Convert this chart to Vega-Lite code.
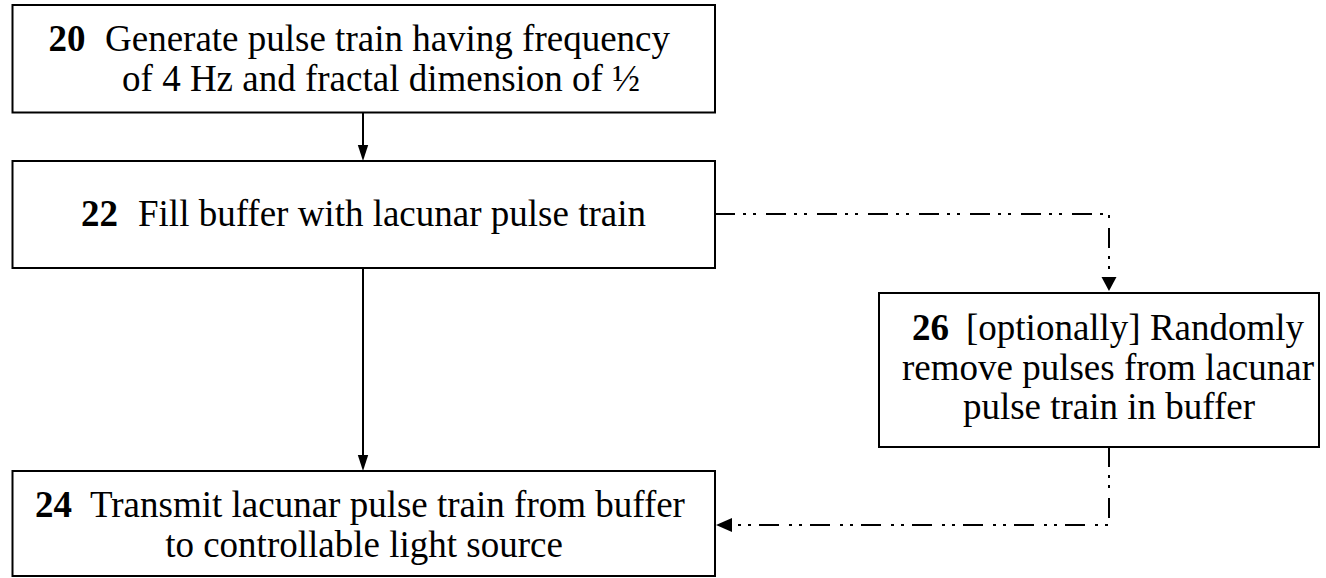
{
  "$schema": "https://vega.github.io/schema/vega-lite/v6.json",
  "width": 1326,
  "height": 578,
  "autosize": {"type": "fit", "contains": "padding"},
  "padding": 0,
  "background": "white",
  "config": {"view": {"stroke": null}},
  "datasets": {
    "boxes": [
      {"id": "20", "x": 12.5, "x2": 715, "y": 5, "y2": 112.5},
      {"id": "22", "x": 12.5, "x2": 715, "y": 161, "y2": 268},
      {"id": "26", "x": 879, "x2": 1319, "y": 293, "y2": 447},
      {"id": "24", "x": 12.5, "x2": 715, "y": 471, "y2": 576}
    ],
    "dashed": [
      {"path": "A", "k": 1, "x": 715, "y": 214},
      {"path": "A", "k": 2, "x": 1109, "y": 214},
      {"path": "A", "k": 3, "x": 1109, "y": 278},
      {"path": "B", "k": 1, "x": 1109, "y": 447},
      {"path": "B", "k": 2, "x": 1109, "y": 525},
      {"path": "B", "k": 3, "x": 731, "y": 525}
    ],
    "solid": [
      {"x": 363, "y": 112.5, "y2": 150},
      {"x": 363, "y": 268, "y2": 460}
    ],
    "tipsSolid": [
      {"x": 363, "y": 161},
      {"x": 363, "y": 471}
    ],
    "tipsDashDown": [
      {"x": 1109, "y": 291}
    ],
    "tipsLeft": [
      {"x": 716, "y": 525}
    ],
    "nums": [
      {"t": "20", "x": 48.5, "y": 50.5},
      {"t": "22", "x": 81, "y": 226},
      {"t": "26", "x": 912, "y": 340},
      {"t": "24", "x": 35, "y": 517}
    ],
    "firstLines": [
      {"t": "Generate pulse train having frequency", "x": 105, "y": 50.5},
      {"t": "Fill buffer with lacunar pulse train", "x": 138, "y": 226},
      {"t": "[optionally] Randomly", "x": 966, "y": 340},
      {"t": "Transmit lacunar pulse train from buffer", "x": 90, "y": 517}
    ],
    "otherLines": [
      {"t": "of 4 Hz and fractal dimension of ½", "x": 381, "y": 91},
      {"t": "remove pulses from lacunar", "x": 1108, "y": 380},
      {"t": "pulse train in buffer", "x": 1109, "y": 419},
      {"t": "to controllable light source", "x": 364, "y": 557}
    ]
  },
  "layer": [
    {
      "data": {"name": "boxes"},
      "mark": {"type": "rect", "fill": "white", "stroke": "black", "strokeWidth": 2},
      "encoding": {
        "x": {"field": "x", "type": "quantitative", "scale": {"domain": [0, 1326], "nice": false, "zero": false}, "axis": null},
        "x2": {"field": "x2"},
        "y": {"field": "y", "type": "quantitative", "scale": {"domain": [0, 578], "nice": false, "zero": false, "reverse": true}, "axis": null},
        "y2": {"field": "y2"}
      }
    },
    {
      "data": {"name": "dashed"},
      "mark": {"type": "line", "color": "black", "strokeWidth": 2, "strokeDash": [20, 8, 3, 7, 3, 10], "strokeCap": "butt"},
      "encoding": {
        "x": {"field": "x", "type": "quantitative"},
        "y": {"field": "y", "type": "quantitative"},
        "detail": {"field": "path"},
        "order": {"field": "k", "type": "quantitative"}
      }
    },
    {
      "data": {"name": "solid"},
      "mark": {"type": "rule", "color": "black", "strokeWidth": 2},
      "encoding": {
        "x": {"field": "x", "type": "quantitative"},
        "y": {"field": "y", "type": "quantitative"},
        "y2": {"field": "y2"}
      }
    },
    {
      "data": {"name": "tipsSolid"},
      "mark": {"type": "point", "filled": true, "color": "black", "opacity": 1, "strokeWidth": 0, "size": 256, "shape": "M0,0L-0.65,-2L0.65,-2Z"},
      "encoding": {
        "x": {"field": "x", "type": "quantitative"},
        "y": {"field": "y", "type": "quantitative"}
      }
    },
    {
      "data": {"name": "tipsDashDown"},
      "mark": {"type": "point", "filled": true, "color": "black", "opacity": 1, "strokeWidth": 0, "size": 196, "shape": "M0,0L-1.07,-2L1.07,-2Z"},
      "encoding": {
        "x": {"field": "x", "type": "quantitative"},
        "y": {"field": "y", "type": "quantitative"}
      }
    },
    {
      "data": {"name": "tipsLeft"},
      "mark": {"type": "point", "filled": true, "color": "black", "opacity": 1, "strokeWidth": 0, "size": 256, "shape": "M0,0L2,-0.875L2,0.875Z"},
      "encoding": {
        "x": {"field": "x", "type": "quantitative"},
        "y": {"field": "y", "type": "quantitative"}
      }
    },
    {
      "data": {"name": "nums"},
      "mark": {"type": "text", "font": "Liberation Serif", "fontSize": 37, "fontWeight": "bold", "align": "left", "baseline": "alphabetic", "color": "black"},
      "encoding": {
        "x": {"field": "x", "type": "quantitative"},
        "y": {"field": "y", "type": "quantitative"},
        "text": {"field": "t"}
      }
    },
    {
      "data": {"name": "firstLines"},
      "mark": {"type": "text", "font": "Liberation Serif", "fontSize": 37, "align": "left", "baseline": "alphabetic", "color": "black"},
      "encoding": {
        "x": {"field": "x", "type": "quantitative"},
        "y": {"field": "y", "type": "quantitative"},
        "text": {"field": "t"}
      }
    },
    {
      "data": {"name": "otherLines"},
      "mark": {"type": "text", "font": "Liberation Serif", "fontSize": 37, "align": "center", "baseline": "alphabetic", "color": "black"},
      "encoding": {
        "x": {"field": "x", "type": "quantitative"},
        "y": {"field": "y", "type": "quantitative"},
        "text": {"field": "t"}
      }
    }
  ]
}
